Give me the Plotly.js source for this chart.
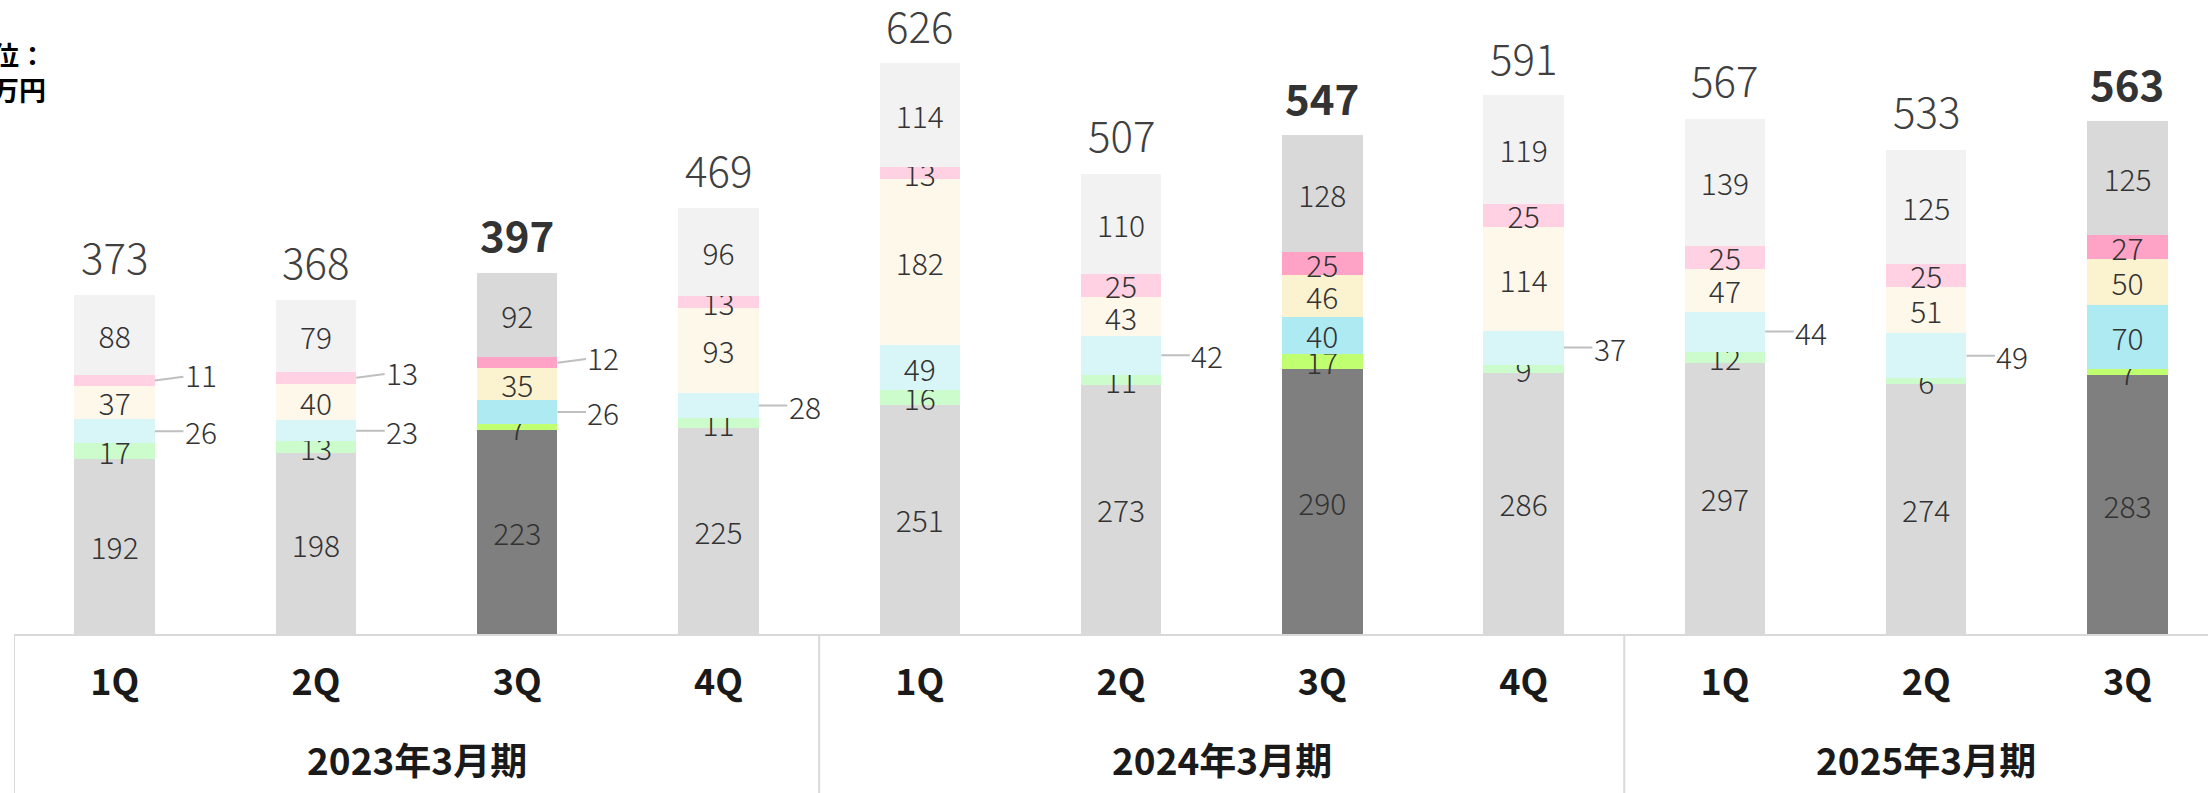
<!DOCTYPE html>
<html>
<head>
<meta charset="utf-8">
<script src="https://cdn.plot.ly/plotly-3.0.1.min.js"></script>
<style>
  html, body { margin: 0; padding: 0; background: #fff; }
  #chart { width: 2208px; height: 793px; }
</style>
</head>
<body>
<div id="chart"></div>
<script>
// x categories
const quarters = ['1Q', '2Q', '3Q', '4Q', '1Q', '2Q', '3Q', '4Q', '1Q', '2Q', '3Q'];
const fiscalYears = ['2023年3月期', '2024年3月期', '2025年3月期'];
const yearSizes = [4, 4, 3];

// stacked values, bottom to top (百万円)
const baseVals   = [192, 198, 223, 225, 251, 273, 290, 286, 297, 274, 283];
const greenVals  = [17, 13, 7, 11, 16, 11, 17, 9, 12, 6, 7];
const cyanVals   = [26, 23, 26, 28, 49, 42, 40, 37, 44, 49, 70];
const yellowVals = [37, 40, 35, 93, 182, 43, 46, 114, 47, 51, 50];
const pinkVals   = [11, 13, 12, 13, 13, 25, 25, 25, 25, 25, 27];
const otherVals  = [88, 79, 92, 96, 114, 110, 128, 119, 139, 125, 125];
const totals     = [373, 368, 397, 469, 626, 507, 547, 591, 567, 533, 563];

// which labels sit outside the bar with a leader line
const outsideLabels = {
    cyan: [0, 1, 2, 3, 5, 7, 8, 9],
    pink: [0, 1, 2]
};

const series = [
    {key: 'base',   vals: baseVals,   color: '#d9d9d9', hl: '#7f7f7f'},
    {key: 'green',  vals: greenVals,  color: '#ccfccc', hl: '#c0ff70'},
    {key: 'cyan',   vals: cyanVals,   color: '#d8f6f8', hl: '#aeeaf2'},
    {key: 'yellow', vals: yellowVals, color: '#fdf8e9', hl: '#fbf2cf'},
    {key: 'pink',   vals: pinkVals,   color: '#ffd1e3', hl: '#ffa3c6'},
    {key: 'other',  vals: otherVals,  color: '#f2f2f2', hl: '#d9d9d9'}
];

const idx = quarters.map((q, i) => i);
const isHl = quarters.map(q => q === '3Q');
const barHalf = 0.2;
const FONT = 'Noto Sans CJK JP, Noto Sans, sans-serif';

const labelFont = {family: FONT, size: 30, color: '#333', weight: 300};

const traces = [];
const annotations = [];
const cum = idx.map(() => 0);

series.forEach(s => {
    const outs = outsideLabels[s.key] || [];
    traces.push({
        type: 'bar',
        name: s.key,
        x: idx,
        y: s.vals,
        marker: {color: s.vals.map((v, i) => isHl[i] ? s.hl : s.color), line: {width: 0}},
        text: s.vals.map((v, i) => outs.includes(i) ? '' : String(v)),
        textposition: 'inside',
        insidetextanchor: 'middle',
        constraintext: 'none',
        textangle: 0,
        insidetextfont: labelFont,
        hoverinfo: 'x+y'
    });
    s.vals.forEach((v, i) => {
        if (outs.includes(i)) {
            annotations.push({
                x: i + barHalf, y: cum[i] + v / 2,
                xref: 'x', yref: 'y',
                text: String(v),
                showarrow: true, arrowhead: 0, arrowwidth: 2, arrowcolor: '#bfbfbf',
                standoff: 0,
                ax: 46, ay: s.key === 'pink' ? -6 : 0,
                font: labelFont
            });
        }
        cum[i] += v;
    });
});

// totals on top
totals.forEach((t, i) => {
    annotations.push({
        x: i, y: t, xref: 'x', yref: 'y',
        text: String(t),
        showarrow: false,
        yanchor: 'bottom', yshift: 5,
        font: {family: FONT, size: 42, color: isHl[i] ? '#333' : '#404040',
               weight: isHl[i] ? 'bold' : 300}
    });
});

// fiscal year labels and dividers
const shapes = [];
let start = 0;
fiscalYears.forEach((fy, k) => {
    const end = start + yearSizes[k];
    annotations.push({
        x: (start + end - 1) / 2, y: -0.197,
        xref: 'x', yref: 'paper',
        text: fy, showarrow: false, yanchor: 'middle',
        font: {family: FONT, size: 37, color: '#1a1a1a', weight: 'bold'}
    });
    shapes.push({
        type: 'line', xref: 'x', yref: 'paper',
        x0: start - 0.5, x1: start - 0.5, y0: 0, y1: -0.3,
        line: {color: '#d9d9d9', width: 2}
    });
    start = end;
});

// unit label
annotations.push({
    x: 0.0155, y: 0.886, xref: 'paper', yref: 'paper',
    xanchor: 'right', yanchor: 'middle', align: 'right',
    text: '単位：<br>百万円', showarrow: false,
    font: {family: FONT, size: 27, color: '#000', weight: 'bold'}
});

const layout = {
    width: 2208, height: 793,
    margin: {l: 14, r: 0, t: 0, b: 159},
    barmode: 'stack', bargap: 0.6,
    showlegend: false,
    paper_bgcolor: '#fff', plot_bgcolor: '#fff',
    font: {family: FONT, color: '#333'},
    xaxis: {
        range: [-0.5, 10.4], tickmode: 'array', tickvals: idx, ticktext: quarters,
        tickfont: {family: FONT, size: 36, color: '#1a1a1a', weight: 'bold'},
        ticks: 'outside', ticklen: 16, tickcolor: 'rgba(0,0,0,0)',
        showline: true, linecolor: '#d9d9d9', linewidth: 2,
        showgrid: false, zeroline: false, fixedrange: true
    },
    yaxis: {range: [0, 694], visible: false, fixedrange: true},
    annotations: annotations,
    shapes: shapes
};

Plotly.newPlot('chart', traces, layout, {displayModeBar: false, staticPlot: true});
</script>
</body>
</html>
